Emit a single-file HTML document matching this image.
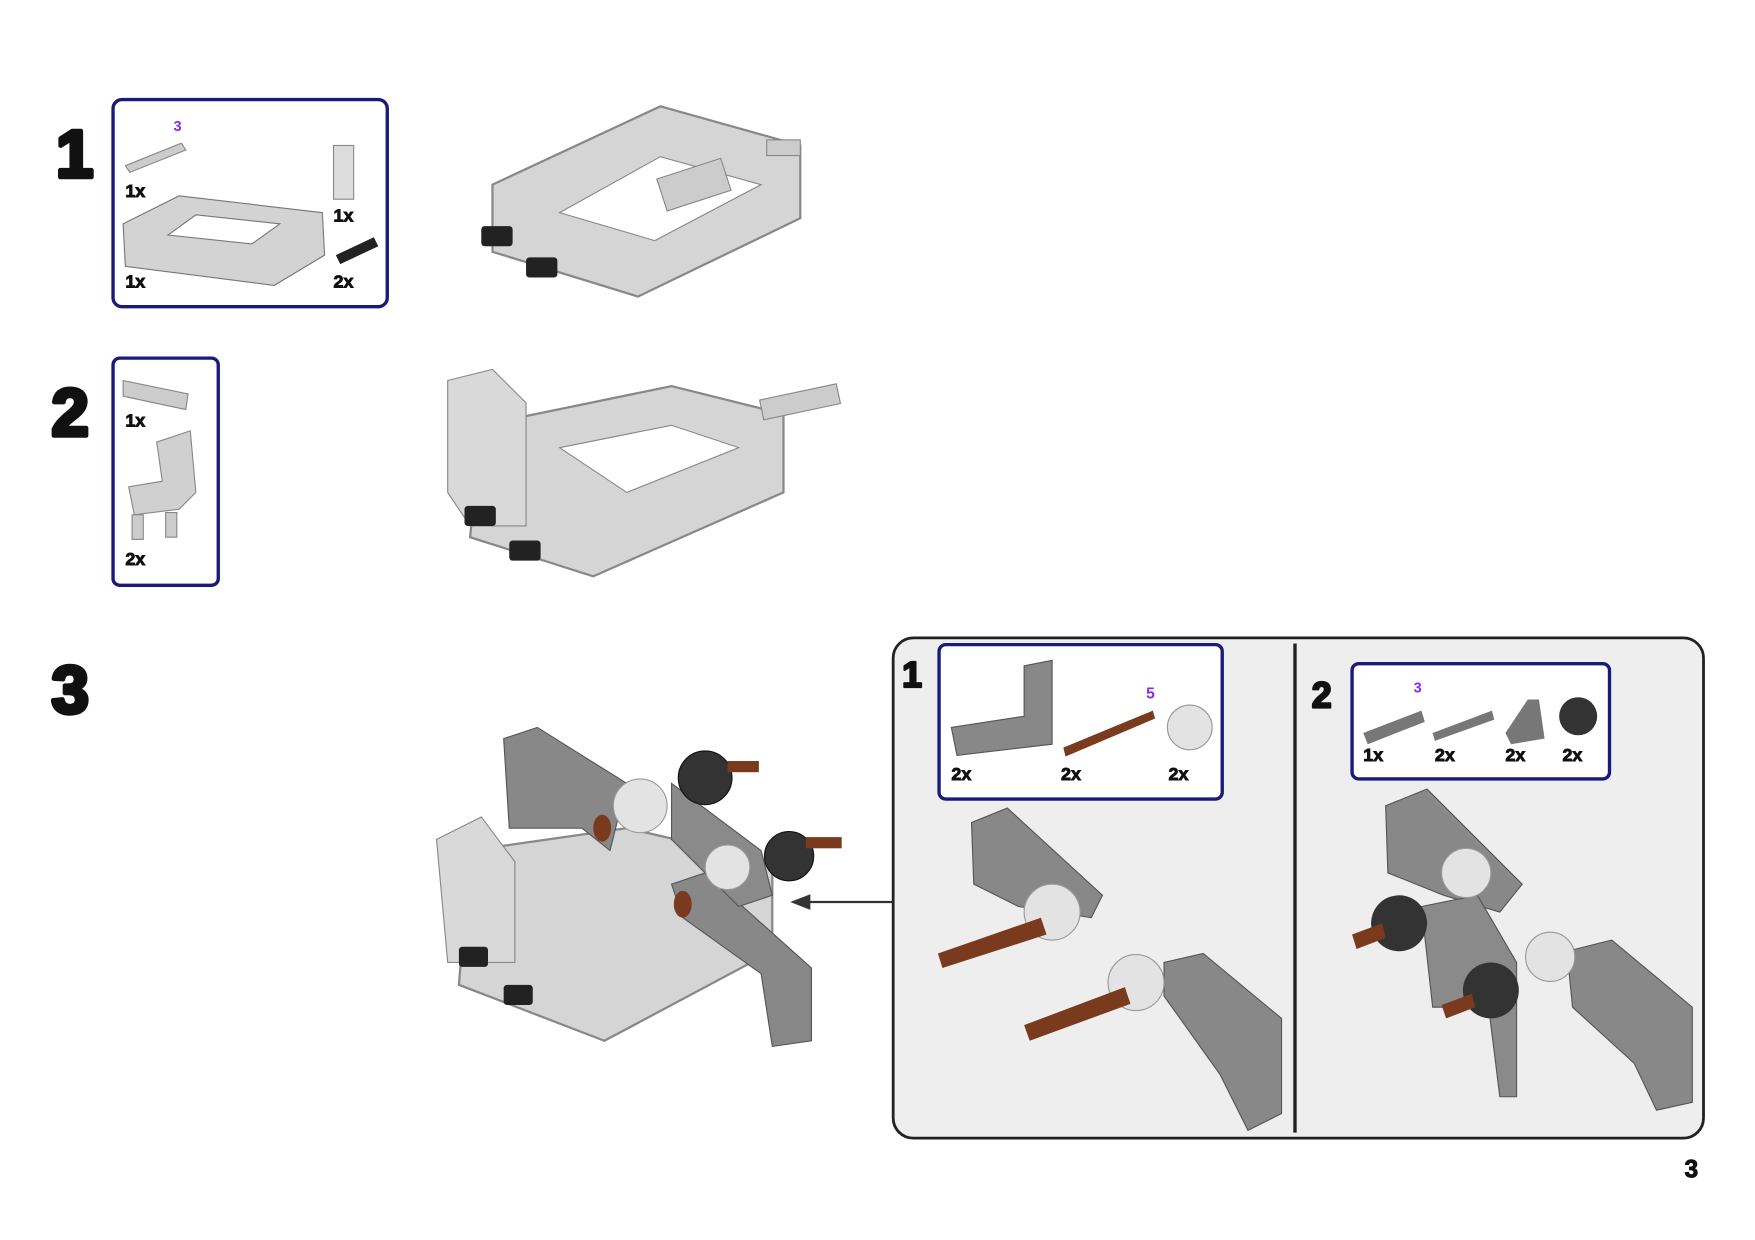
<!DOCTYPE html>
<html><head><meta charset="utf-8"><style>
html,body{margin:0;padding:0;background:#fff;}
svg{display:block}
text{font-family:"Liberation Sans",sans-serif;font-weight:bold}
.big{stroke:#111;stroke-width:4;stroke-linejoin:round}
.sm{stroke:#111;stroke-width:0.8}
</style></head><body>
<svg width="1755" height="1240" viewBox="0 0 1568 1108" preserveAspectRatio="none" xmlns="http://www.w3.org/2000/svg">
<rect width="1568" height="1108" fill="#fff"/>
<text class="big" x="50" y="158" font-size="60" fill="#111">1</text>
<text class="big" x="46" y="389" font-size="60" fill="#111">2</text>
<text class="big" x="46" y="637" font-size="60" fill="#111">3</text>
<text class="sm" x="1505" y="1052" font-size="22" fill="#111">3</text>

<!-- Step 1 parts box -->
<rect x="101" y="89" width="245" height="185" rx="8" fill="#fff" stroke="#1a1a7a" stroke-width="3"/>
<text x="155" y="117" font-size="13" fill="#8a2be2" font-weight="normal">3</text>
<path d="M112 148 L162 128 L166 134 L116 154Z" fill="#ccc" stroke="#888"/>
<text class="sm" x="112" y="176" font-size="16" fill="#111">1x</text>
<rect x="298" y="130" width="18" height="48" fill="#ddd" stroke="#888"/>
<text class="sm" x="298" y="198" font-size="16" fill="#111">1x</text>
<path d="M110 200 L160 175 L288 190 L290 228 L245 255 L112 238Z" fill="#d3d3d3" stroke="#777"/>
<path d="M150 210 L175 192 L250 200 L225 218Z" fill="#fff" stroke="#777"/>
<path d="M300 228 L334 212 L338 220 L304 236Z" fill="#222"/>
<text class="sm" x="112" y="257" font-size="16" fill="#111">1x</text>
<text class="sm" x="298" y="257" font-size="16" fill="#111">2x</text>

<!-- Step 1 model -->
<path d="M440 165 L590 95 L715 130 L715 195 L570 265 L440 225Z" fill="#d5d5d5" stroke="#888" stroke-width="2"/>
<path d="M500 190 L590 140 L680 165 L585 215Z" fill="#fff" stroke="#888"/>
<rect x="590" y="150" width="60" height="30" fill="#ccc" stroke="#888" transform="rotate(-18 620 165)"/>
<rect x="685" y="125" width="30" height="14" fill="#ccc" stroke="#888"/>
<rect x="430" y="202" width="28" height="18" fill="#222" rx="3"/>
<rect x="470" y="230" width="28" height="18" fill="#222" rx="3"/>

<!-- Step 2 parts box -->
<rect x="101" y="320" width="94" height="203" rx="6" fill="#fff" stroke="#1a1a7a" stroke-width="3"/>
<path d="M110 340 L168 352 L166 366 L110 354Z" fill="#ccc" stroke="#888"/>
<text class="sm" x="112" y="381" font-size="16" fill="#111">1x</text>
<path d="M140 395 L170 385 L175 440 L160 455 L120 460 L115 435 L145 430Z" fill="#d0d0d0" stroke="#888"/>
<rect x="118" y="460" width="10" height="22" fill="#ccc" stroke="#888"/>
<rect x="148" y="458" width="10" height="22" fill="#ccc" stroke="#888"/>
<text class="sm" x="112" y="505" font-size="16" fill="#111">2x</text>

<!-- Step 2 model -->
<path d="M430 380 L600 345 L700 370 L700 440 L530 515 L420 480Z" fill="#d5d5d5" stroke="#888" stroke-width="2"/>
<path d="M400 340 L440 330 L470 360 L470 470 L420 470 L400 440Z" fill="#d9d9d9" stroke="#888"/>
<path d="M500 400 L600 380 L660 400 L560 440Z" fill="#fff" stroke="#888"/>
<rect x="680" y="350" width="70" height="18" fill="#ccc" stroke="#888" transform="rotate(-12 715 360)"/>
<rect x="415" y="452" width="28" height="18" fill="#222" rx="3"/>
<rect x="455" y="483" width="28" height="18" fill="#222" rx="3"/>

<!-- Step 3 model -->
<path d="M420 760 L560 740 L690 770 L690 850 L540 930 L410 880Z" fill="#d5d5d5" stroke="#888" stroke-width="2"/>
<path d="M390 750 L430 730 L460 770 L460 860 L400 860Z" fill="#d9d9d9" stroke="#888"/>
<path d="M450 660 L480 650 L560 700 L545 760 L520 740 L455 740Z" fill="#888" stroke="#555"/>
<path d="M600 790 L630 780 L725 865 L725 930 L690 935 L680 870 L610 820Z" fill="#888" stroke="#555"/>
<path d="M600 700 L680 760 L690 800 L660 810 L600 750Z" fill="#8a8a8a" stroke="#555"/>
<circle cx="572" cy="720" r="24" fill="#e3e3e3" stroke="#999"/>
<circle cx="630" cy="695" r="24" fill="#333" stroke="#111"/>
<circle cx="705" cy="765" r="22" fill="#333" stroke="#111"/>
<circle cx="650" cy="775" r="20" fill="#e3e3e3" stroke="#999"/>
<rect x="650" y="680" width="28" height="10" fill="#7a3a1e"/>
<rect x="720" y="748" width="32" height="10" fill="#7a3a1e"/>
<ellipse cx="538" cy="740" rx="8" ry="12" fill="#7a3a1e"/>
<ellipse cx="610" cy="808" rx="8" ry="12" fill="#7a3a1e"/>
<rect x="410" y="846" width="26" height="18" fill="#222" rx="3"/>
<rect x="450" y="880" width="26" height="18" fill="#222" rx="3"/>

<line x1="800" y1="806" x2="715" y2="806" stroke="#333" stroke-width="2"/>
<path d="M706 806 L724 799 L724 813Z" fill="#333"/>

<rect x="798" y="570" width="724" height="447" rx="18" fill="#eeeeee" stroke="#222" stroke-width="2.5"/>
<line x1="1157" y1="575" x2="1157" y2="1012" stroke="#222" stroke-width="3"/>
<text class="big" style="stroke-width:2" x="806" y="614" font-size="32" fill="#111">1</text>
<text class="big" style="stroke-width:2" x="1172" y="632" font-size="32" fill="#111">2</text>

<rect x="839" y="576" width="253" height="138" rx="6" fill="#fff" stroke="#1a1a7a" stroke-width="3"/>
<path d="M850 650 L915 640 L915 595 L940 590 L940 665 L855 675Z" fill="#888" stroke="#555"/>
<path d="M950 668 L1030 635 L1032 642 L952 676Z" fill="#7a3a1e"/>
<text x="1024" y="624" font-size="14" fill="#8a2be2" font-weight="normal">5</text>
<circle cx="1063" cy="650" r="20" fill="#e3e3e3" stroke="#999"/>
<text class="sm" x="850" y="697" font-size="16" fill="#111">2x</text>
<text class="sm" x="948" y="697" font-size="16" fill="#111">2x</text>
<text class="sm" x="1044" y="697" font-size="16" fill="#111">2x</text>

<path d="M868 735 L900 722 L985 800 L975 820 L910 810 L870 790Z" fill="#888" stroke="#555"/>
<path d="M1040 860 L1075 852 L1145 910 L1145 995 L1115 1010 L1090 960 L1040 890Z" fill="#888" stroke="#555"/>
<circle cx="940" cy="815" r="25" fill="#e3e3e3" stroke="#999"/>
<circle cx="1015" cy="878" r="25" fill="#e3e3e3" stroke="#999"/>
<path d="M838 852 L930 820 L935 835 L842 865Z" fill="#7a3a1e"/>
<path d="M915 916 L1005 882 L1010 897 L920 930Z" fill="#7a3a1e"/>

<rect x="1208" y="593" width="230" height="103" rx="6" fill="#fff" stroke="#1a1a7a" stroke-width="3"/>
<text x="1263" y="619" font-size="13" fill="#8a2be2" font-weight="normal">3</text>
<path d="M1218 655 L1270 635 L1273 645 L1222 665Z" fill="#777"/>
<path d="M1280 655 L1333 635 L1335 643 L1282 662Z" fill="#777"/>
<path d="M1345 655 L1365 625 L1375 625 L1380 660 L1350 665Z" fill="#777"/>
<circle cx="1410" cy="640" r="17" fill="#333"/>
<text class="sm" x="1218" y="680" font-size="16" fill="#111">1x</text>
<text class="sm" x="1282" y="680" font-size="16" fill="#111">2x</text>
<text class="sm" x="1345" y="680" font-size="16" fill="#111">2x</text>
<text class="sm" x="1396" y="680" font-size="16" fill="#111">2x</text>

<path d="M1238 720 L1275 705 L1360 790 L1340 815 L1290 800 L1240 780Z" fill="#888" stroke="#555"/>
<path d="M1400 850 L1440 840 L1512 900 L1512 985 L1480 992 L1460 950 L1405 900Z" fill="#888" stroke="#555"/>
<path d="M1270 810 L1320 800 L1355 860 L1355 980 L1340 980 L1330 900 L1280 900Z" fill="#8a8a8a" stroke="#555"/>
<circle cx="1310" cy="780" r="22" fill="#e3e3e3" stroke="#999"/>
<circle cx="1385" cy="855" r="22" fill="#e3e3e3" stroke="#999"/>
<circle cx="1250" cy="825" r="25" fill="#333"/>
<circle cx="1332" cy="885" r="25" fill="#333"/>
<path d="M1208 835 L1235 825 L1238 838 L1212 848Z" fill="#7a3a1e"/>
<path d="M1288 898 L1315 888 L1318 900 L1292 910Z" fill="#7a3a1e"/>
</svg>
</body></html>
